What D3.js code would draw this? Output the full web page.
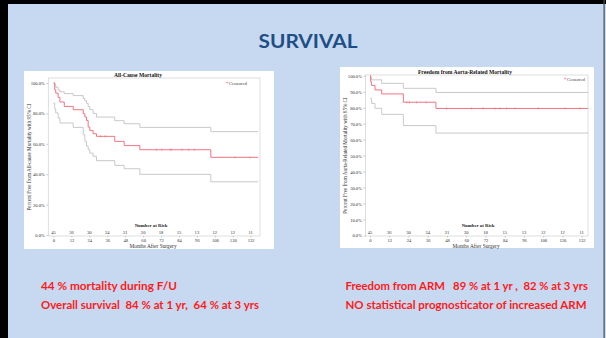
<!DOCTYPE html>
<html>
<head>
<meta charset="utf-8">
<script src="https://cdn.jsdelivr.net/npm/d3@7"></script>
<style>
  html, body { margin: 0; padding: 0; background: #c6d9f1; }
  svg { display: block; }
</style>
</head>
<body>
<div id="slide"></div>
<script>
// Risk table and x ticks (shared by both charts)
const monthTicks = [0, 12, 24, 36, 48, 60, 72, 84, 96, 108, 120, 132];
const numberAtRisk = [45, 36, 30, 24, 21, 20, 18, 15, 13, 12, 12, 11];

// All-cause mortality: step times (months) and values (%)
const acmTimes = [0, 0.8, 1.5, 3.1, 4.3, 7.2, 13.2, 19.9, 21, 22.1, 23.2, 24.3, 26.5, 28.8, 41, 47.3, 57.8, 105.3];
const acmSurv  = [100, 95.6, 93.3, 90.5, 87.5, 84.6, 82.4, 79.8, 77.6, 75.3, 71.0, 68.8, 66.6, 64.9, 61.6, 58.8, 56.1, 51.1];
const acmLower = [86.8, 83.0, 80.3, 77.0, 73.7, 73.7, 70.8, 66.0, 61.6, 58.5, 56.1, 53.8, 51.8, 48.9, 45.8, 43.6, 39.9, 35.0];
const acmUpper = [100, 99.0, 97.2, 95.5, 94.2, 93.0, 91.7, 89.8, 88.3, 86.6, 84.5, 82.5, 80.0, 77.6, 75.2, 73.2, 70.8, 68.0];
const acmCensored = [31.5, 34.5, 69, 72.5, 78, 79, 86, 90.5, 94.5, 121.5, 131.5];
const acmYTicks = [0, 20, 40, 60, 80, 100];

// Aorta-related mortality
const armTimes = [0, 0.4, 1.0, 3.1, 7.3, 20.8, 41.1];
const armSurv  = [100, 96.2, 93.9, 91.1, 88.6, 83.4, 79.5];
const armLower = [85.8, 85.8, 82.7, 79.6, 75.8, 68.8, 64.1];
const armUpper = [100, 99.0, 97.4, 97.4, 95.2, 92.1, 89.5];
const armCensored = [23, 24.6, 29, 35, 47.8, 63.4, 70.6, 77.9, 81, 85.2, 90.4, 104.9, 121.6, 130.9];
const armYTicks = [0, 10, 20, 30, 40, 50, 60, 70, 80, 90, 100];

const W = 606, H = 338;
const svg = d3.select("#slide").append("svg").attr("width", W).attr("height", H);

// Slide background and borders
svg.append("rect").attr("width", W).attr("height", H).attr("fill", "#c6d9f1");
svg.append("rect").attr("x", 0).attr("y", 0).attr("width", W).attr("height", 4).attr("fill", "#000");
svg.append("rect").attr("x", 0).attr("y", 0).attr("width", 8).attr("height", H).attr("fill", "#000");
svg.append("rect").attr("x", 603.5).attr("y", 0).attr("width", 1.2).attr("height", H).attr("fill", "#4a4a4a");

svg.append("text").attr("x", 308).attr("y", 47.5).attr("text-anchor", "middle")
    .attr("font-family", "Lato, 'Open Sans', sans-serif").attr("font-weight", "bold")
    .attr("font-size", 19).attr("fill", "#1f4e85")
    .attr("textLength", 99).attr("lengthAdjust", "spacingAndGlyphs")
    .text("SURVIVAL");

const serif = "'Liberation Serif', 'DejaVu Serif', serif";
const redLine = "#ef7480";
const ciLine = "#c3c3c3";

function drawKM(opt) {
    const g = svg.append("g");
    g.append("rect").attr("x", opt.panel[0]).attr("y", opt.panel[1])
        .attr("width", opt.panel[2]).attr("height", opt.panel[3]).attr("fill", "#fff");

    const x = d3.scaleLinear().domain([0, 132]).range(opt.xRange);
    const y = d3.scaleLinear().domain([0, 100]).range(opt.yRange);

    // Frame
    g.append("rect").attr("x", opt.frame[0]).attr("y", opt.frame[1])
        .attr("width", opt.frame[2] - opt.frame[0]).attr("height", opt.frame[3] - opt.frame[1])
        .attr("fill", "none").attr("stroke", "#d6d6d6").attr("stroke-width", 0.8);

    // Y axis
    const yAxis = g.append("g").attr("transform", `translate(${opt.frame[0]},0)`)
        .call(d3.axisLeft(y).tickValues(opt.yTicks).tickSize(2).tickPadding(1.5)
            .tickFormat(d => d.toFixed(1) + "%"));
    yAxis.select(".domain").remove();
    yAxis.selectAll("line").attr("stroke", "#999").attr("stroke-width", 0.5);
    yAxis.selectAll("text").attr("font-family", serif).attr("font-size", 4.6).attr("fill", "#333");

    // X axis
    const xAxis = g.append("g").attr("transform", `translate(0,${opt.frame[3]})`)
        .call(d3.axisBottom(x).tickValues(monthTicks).tickSize(1.5).tickPadding(1));
    xAxis.select(".domain").remove();
    xAxis.selectAll("line").attr("stroke", "#999").attr("stroke-width", 0.5);
    xAxis.selectAll("text").attr("font-family", serif).attr("font-size", 4.6).attr("fill", "#333");

    // Number at risk
    g.append("text").attr("x", opt.riskLabelX).attr("y", opt.frame[3] - 9)
        .attr("text-anchor", "middle").attr("font-family", serif).attr("font-weight", "bold")
        .attr("font-size", 4.8).attr("fill", "#222").text("Number at Risk");
    g.selectAll(".risk").data(numberAtRisk).enter().append("text")
        .attr("x", (d, i) => x(monthTicks[i])).attr("y", opt.frame[3] - 1.8)
        .attr("text-anchor", "middle").attr("font-family", serif).attr("font-size", 4.6)
        .attr("fill", "#333").text(d => d);

    g.append("text").attr("x", opt.xLabelX).attr("y", opt.frame[3] + 11.5)
        .attr("text-anchor", "middle").attr("font-family", serif).attr("font-size", 5.4)
        .attr("fill", "#333").text("Months After Surgery");

    const midY = (opt.frame[1] + opt.frame[3]) / 2;
    g.append("text").attr("transform", `translate(${opt.yLabelX},${midY}) rotate(-90)`)
        .attr("text-anchor", "middle").attr("font-family", serif).attr("font-size", 5.2)
        .attr("fill", "#333").text(opt.yLabel);

    g.append("text").attr("x", opt.titleX).attr("y", opt.titleY).attr("text-anchor", "middle")
        .attr("font-family", serif).attr("font-weight", "bold").attr("font-size", 5.6)
        .attr("fill", "#111").text(opt.title);

    // Legend
    const lg = g.append("text").attr("x", opt.legend[0]).attr("y", opt.legend[1])
        .attr("text-anchor", "end").attr("font-family", serif).attr("font-size", 4.8).attr("fill", "#444");
    lg.append("tspan").attr("fill", redLine).attr("font-size", 6).text("+");
    lg.append("tspan").text("Censored");

    // Step curves
    const line = d3.line().curve(d3.curveStepAfter).x(d => x(d[0])).y(d => y(d[1]));
    const series = vals => opt.times.map((t, i) => [t, vals[i]]).concat([[opt.end, vals[vals.length - 1]]]);

    [opt.lower, opt.upper].forEach(vals => {
        g.append("path").attr("d", line(series(vals))).attr("fill", "none")
            .attr("stroke", ciLine).attr("stroke-width", 0.9);
    });
    g.append("path").attr("d", line(series(opt.surv))).attr("fill", "none")
        .attr("stroke", redLine).attr("stroke-width", 1);

    // Censoring marks
    const stepAt = t => opt.surv[d3.bisectRight(opt.times, t) - 1];
    g.selectAll(".cens").data(opt.censored).enter().append("line")
        .attr("x1", d => x(d)).attr("x2", d => x(d))
        .attr("y1", d => y(stepAt(d)) - 1.3).attr("y2", d => y(stepAt(d)) + 1.3)
        .attr("stroke", redLine).attr("stroke-width", 0.5);
}

drawKM({
    panel: [24, 71, 250, 178],
    frame: [48.3, 78, 260, 236],
    xRange: [53.5, 250.7],
    yRange: [235, 83],
    yTicks: acmYTicks,
    times: acmTimes, surv: acmSurv, lower: acmLower, upper: acmUpper,
    censored: acmCensored, end: 137,
    title: "All-Cause Mortality", titleX: 138, titleY: 76.5,
    yLabel: "Percent Free from All-cause Mortality with 95% CI", yLabelX: 30.5,
    legend: [247, 84.5],
    riskLabelX: 151, xLabelX: 153
});

drawKM({
    panel: [340, 67, 254, 181],
    frame: [365.5, 75, 588, 236],
    xRange: [370, 581.7],
    yRange: [235.5, 75.7],
    yTicks: armYTicks,
    times: armTimes, surv: armSurv, lower: armLower, upper: armUpper,
    censored: armCensored, end: 136,
    title: "Freedom from Aorta-Related Mortality", titleX: 465, titleY: 73.6,
    yLabel: "Percent Free from Aorta-Related Mortality with 95% CI", yLabelX: 346.5,
    legend: [585, 80.5],
    riskLabelX: 478, xLabelX: 476
});

// Summary text
const notes = [
    { x: 41, y: 290, text: "44 % mortality during F/U", w: 136 },
    { x: 41, y: 308.5, text: "Overall survival  84 % at 1 yr,  64 % at 3 yrs", w: 218 },
    { x: 345.5, y: 290, text: "Freedom from ARM   89 % at 1 yr ,  82 % at 3 yrs", w: 242.5 },
    { x: 345.5, y: 308.5, text: "NO statistical prognosticator of increased ARM", w: 241 }
];
svg.selectAll(".note").data(notes).enter().append("text")
    .attr("x", d => d.x).attr("y", d => d.y)
    .attr("font-family", "Lato, 'Open Sans', sans-serif").attr("font-weight", "bold")
    .attr("font-size", 10.5).attr("fill", "#ff1a1a")
    .attr("textLength", d => d.w).attr("lengthAdjust", "spacingAndGlyphs")
    .attr("xml:space", "preserve").style("white-space", "pre")
    .text(d => d.text);
</script>
</body>
</html>
